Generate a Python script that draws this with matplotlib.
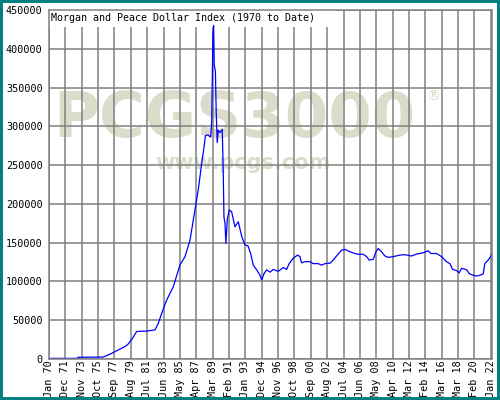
import matplotlib
matplotlib.use('Agg')
import matplotlib.pyplot as plt
from matplotlib.patches import Rectangle
import numpy as np

# tick labels and the dates they stand for (decimal years)
tick_labels = ['Jan 70', 'Dec 71', 'Nov 73', 'Oct 75', 'Sep 77', 'Aug 79', 'Jul 81',
               'Jun 83', 'May 85', 'Apr 87', 'Mar 89', 'Feb 91', 'Jan 93', 'Dec 94',
               'Nov 96', 'Oct 98', 'Sep 00', 'Aug 02', 'Jul 04', 'Jun 06', 'May 08',
               'Apr 10', 'Mar 12', 'Feb 14', 'Mar 16', 'Mar 18', 'Feb 20', 'Jan 22']
tick_dates = [1970.0, 1971.917, 1973.833, 1975.75, 1977.667, 1979.583, 1981.5,
              1983.417, 1985.333, 1987.25, 1989.167, 1991.083, 1993.0, 1994.917,
              1996.833, 1998.75, 2000.667, 2002.583, 2004.5, 2006.417, 2008.333,
              2010.25, 2012.167, 2014.083, 2016.167, 2018.167, 2020.083, 2022.0]

# index values
dates = [1970.0, 1973.28, 1973.4, 1976.32, 1976.79, 1977.34, 1978.08, 1978.90, 1979.25,
         1979.68, 1980.27, 1981.44, 1982.42, 1982.80, 1983.20, 1983.47, 1983.78, 1984.55,
         1985.33, 1985.93, 1986.51, 1987.09, 1987.48, 1987.88, 1988.18, 1988.32, 1988.62,
         1988.93, 1989.05, 1989.20, 1989.28, 1989.35, 1989.49, 1989.58, 1989.70, 1989.82,
         1990.03, 1990.29, 1990.41, 1990.49, 1990.61, 1990.72, 1990.88, 1991.11, 1991.39,
         1991.78, 1992.17, 1992.57, 1992.95, 1993.30, 1993.62, 1993.92, 1994.32, 1994.71,
         1994.91, 1995.18, 1995.49, 1995.88, 1996.27, 1996.85, 1997.43, 1997.83, 1998.13,
         1998.60, 1999.12, 1999.39, 1999.58, 1999.97, 2000.56, 2000.95, 2001.53, 2001.93,
         2002.32, 2002.91, 2003.29, 2003.76, 2004.28, 2004.66, 2005.24, 2005.83, 2006.22,
         2006.80, 2007.20, 2007.50, 2007.97, 2008.29, 2008.56, 2008.95, 2009.34, 2009.73,
         2010.32, 2011.09, 2011.68, 2012.46, 2013.05, 2013.83, 2014.44, 2014.78, 2015.51,
         2016.14, 2016.75, 2017.17, 2017.49, 2017.98, 2018.28, 2018.57, 2019.17, 2019.47,
         2019.93, 2020.33, 2020.72, 2021.10, 2021.29, 2021.69, 2021.97, 2022.12]
values = [800, 800, 2200, 2500, 4500, 7300, 11500, 16000, 19000,
          25000, 35500, 36000, 37500, 46000, 59000, 67000, 76000, 93000,
          121000, 132000, 153000, 192000, 218000, 252000, 275000, 288000, 289000,
          286000, 304000, 420000, 430000, 380000, 370000, 320000, 279000, 295000,
          292000, 296000, 240000, 183000, 175000, 149000, 180000, 192000, 190000,
          170500, 177000, 158000, 147000, 146000, 136000, 121000, 115000, 108000,
          102000, 110000, 115000, 112000, 115500, 113000, 118000, 115500, 123000,
          130000, 134000, 132000, 124000, 125500, 125500, 123000, 123000, 121000,
          123000, 123500, 127600, 134000, 140500, 141300, 138300, 136000, 135000,
          135000, 132000, 127600, 128400, 138300, 142500, 138300, 132800, 131000,
          132000, 134000, 134500, 132800, 135300, 137000, 139600, 136000, 136000,
          132000, 125500, 123000, 115500, 114000, 111000, 117000, 115000, 110000,
          108000, 107000, 108000, 109500, 123000, 127600, 132000, 136000]

y_ticks = list(range(0, 450001, 50000))


def to_pos(d):
    # the chart spaces its date labels evenly, so map dates onto label slots
    d = np.asarray(d, dtype=float)
    pos = np.interp(d, tick_dates, np.arange(len(tick_dates)))
    last = d > tick_dates[-1]
    step = tick_dates[-1] - tick_dates[-2]
    pos[last] = len(tick_dates) - 1 + (d[last] - tick_dates[-1]) / step
    return pos


mono = 'DejaVu Sans Mono'
grid_col = '#808080'
mark_col = '#dcdccb'

fig = plt.figure(figsize=(5, 4), dpi=100)
ax = fig.add_axes([0.098, 0.1025, 0.886, 0.8725])

# watermark
ax.text(0.418, 0.685, 'PCGS3000', transform=ax.transAxes, ha='center', va='center',
        fontsize=45, fontweight='bold', color=mark_col, zorder=0.1)
ax.text(0.438, 0.562, 'www.pcgs.com', transform=ax.transAxes, ha='center', va='center',
        fontsize=15, fontweight='bold', color=mark_col, zorder=0.1)
ax.text(0.867, 0.75, '\u00ae', transform=ax.transAxes, ha='center', va='center',
        fontsize=10, color=mark_col, zorder=0.1)

ax.plot(to_pos(dates), values, color='#0000ff', linewidth=0.9, zorder=2)

ax.set_xlim(0, 27.07)
ax.set_ylim(0, 450000)
ax.set_xticks(np.arange(len(tick_labels)))
ax.set_xticklabels(tick_labels, rotation=90, fontfamily=mono, fontsize=7.3)
ax.set_yticks(y_ticks)
ax.set_yticklabels([str(v) for v in y_ticks], fontfamily=mono, fontsize=7.3)
ax.tick_params(axis='both', length=0)
ax.tick_params(axis='y', pad=4.5)
ax.tick_params(axis='x', pad=1)

ax.set_axisbelow(True)
ax.grid(True, color=grid_col, linewidth=1.1)
for s in ax.spines.values():
    s.set_color(grid_col)
    s.set_linewidth(1.1)

# title box in the top left corner
ax.add_patch(Rectangle((0, 0.951), 0.646, 0.049, transform=ax.transAxes,
                       facecolor='white', edgecolor='none', zorder=1.5))
ax.text(0.004, 0.992, 'Morgan and Peace Dollar Index (1970 to Date)', transform=ax.transAxes,
        ha='left', va='top', fontfamily=mono, fontsize=7.2, zorder=3)

# teal frame around the picture
fig.add_artist(Rectangle((0, 0), 1, 1, transform=fig.transFigure, fill=False,
                         edgecolor='#008080', linewidth=4.3))

fig.savefig('out.png', dpi=100)
